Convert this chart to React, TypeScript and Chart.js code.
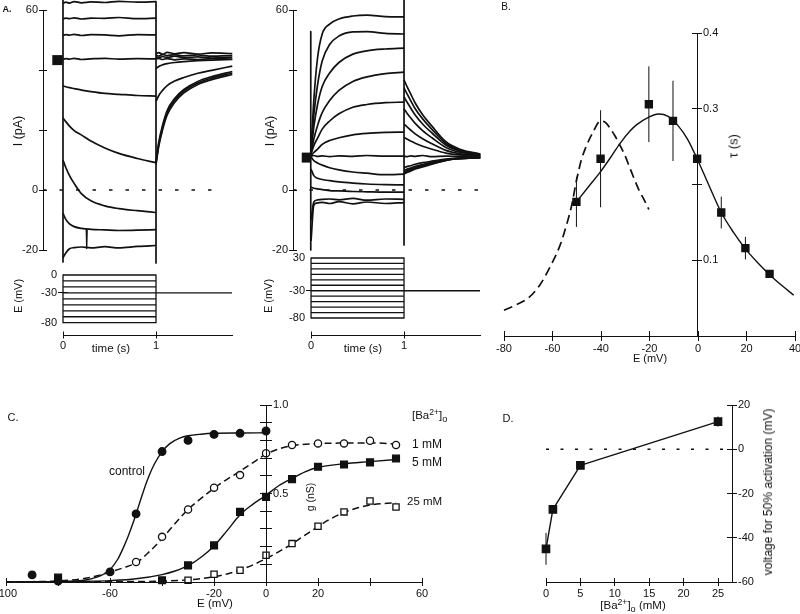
import { useEffect, useRef } from 'react';
import { Chart, registerables } from 'chart.js';

Chart.register(...registerables);

const W = 800;
const H = 614;
const INK = '#111111';
const FONT = "'Liberation Sans', Arial, Helvetica, sans-serif";
const AXW = 40; // reserved width for a vertical axis box
const AXH = 30; // reserved height for a horizontal axis box

// ---------------- Panel A: sample times (s) ----------------
const stepTimes = [0, 0.03, 0.07, 0.12, 0.2, 0.3, 0.45, 0.6, 0.8, 1.0];
const tailTimes = [1.0, 1.03, 1.07, 1.12, 1.2, 1.3, 1.45, 1.6, 1.82];
const timeTicks = [0, 1];
const holdingV = -30;

// Panel A left: steps 0 .. -80 mV (pA)
const leftStepVolts = [0, -10, -20, -30, -40, -50, -60, -70, -80];
const leftHoldI = 43.3;
const leftStepI = [
  [62.2, 62.6, 62.3, 62.8, 62.4, 62.7, 62.5, 62.9, 62.6, 62.8],
  [57.0, 57.3, 57.1, 57.4, 57.0, 57.3, 57.2, 57.5, 57.1, 57.3],
  [51.5, 51.8, 51.6, 51.9, 51.5, 51.8, 51.7, 51.4, 51.8, 51.7],
  [43.5, 43.8, 43.6, 43.9, 43.5, 43.7, 43.9, 43.6, 43.8, 43.7],
  [34.7, 34.4, 34.1, 33.8, 33.3, 32.8, 32.2, 31.9, 31.5, 31.3],
  [24.0, 22.8, 21.3, 19.8, 18.3, 16.3, 14.0, 12.2, 10.5, 9.1],
  [10.0, 7.5, 4.8, 2.2, -1.3, -3.6, -5.3, -6.2, -6.9, -7.5],
  [-7.8, -9.8, -11.3, -12.2, -12.8, -13.1, -13.3, -13.5, -13.4, -13.2],
  [-22.5, -21.0, -19.6, -19.2, -19.0, -19.3, -18.9, -19.3, -18.8, -18.5],
];
const leftTailI = [
  [45.5, 45.8, 45.2, 45.9, 45.4, 45.8, 45.3, 45.7, 45.5],
  [45.0, 44.6, 45.2, 44.8, 45.1, 44.7, 45.0, 44.6, 44.9],
  [44.4, 44.0, 44.5, 44.2, 44.6, 44.1, 44.4, 44.0, 44.3],
  [43.6, 43.9, 43.5, 43.8, 43.4, 43.7, 43.5, 43.8, 43.6],
  [40.5, 41.2, 41.7, 42.1, 42.5, 42.8, 43.1, 43.3, 43.5],
  [29.5, 31.5, 33.2, 34.8, 36.3, 37.5, 38.9, 39.9, 41.3],
  [9.5, 16.0, 21.5, 26.5, 30.5, 33.5, 36.2, 37.8, 39.5],
  [9.0, 15.3, 20.8, 25.8, 29.9, 33.0, 35.7, 37.3, 39.0],
  [8.5, 14.6, 20.0, 25.0, 29.2, 32.4, 35.2, 36.8, 38.5],
];
const leftGlitch = [[0.25, -13.2], [0.255, -19.5], [0.26, -13.3]];

// Panel A right: steps +30 .. -80 mV (pA)
const rightStepVolts = [30, 20, 10, 0, -10, -20, -30, -40, -50, -60, -70, -80];
const rightHoldI = 10.8;
const rightStepI = [
  [13, 30, 44, 52, 55.3, 57, 58, 58.3, 57.8, 57.7],
  [13, 25, 35, 43, 48.5, 51.3, 52.7, 52.8, 52.2, 52],
  [12.5, 21, 28.5, 34.5, 39, 42.5, 45.3, 46.4, 47, 47.3],
  [12, 17, 21.5, 25.8, 29.8, 33.2, 36.2, 37.7, 38.8, 39.3],
  [12, 14.8, 17.3, 20.3, 23, 25.4, 27.6, 28.5, 29.1, 29.3],
  [11.5, 12.5, 13.6, 15.2, 16.5, 17.4, 18.4, 18.9, 19.2, 19.3],
  [11.3, 11.5, 11.2, 11.4, 11.1, 11.4, 11.2, 11.5, 11.3, 11.3],
  [11, 9.8, 9, 8.3, 7.4, 6.7, 6.0, 5.6, 5.1, 5.3],
  [7, 4.8, 3.9, 3.5, 3.1, 2.7, 2.3, 2.0, 1.8, 1.7],
  [1, 0.6, 0.4, 0.1, -0.2, -0.3, -0.5, -0.6, -0.7, -0.7],
  [-10, -4, -3.3, -3.1, -3.0, -3.3, -2.8, -3.4, -3.0, -3.1],
  [-17, -5, -4.3, -4.1, -4.5, -3.9, -4.6, -4.0, -4.5, -4.2],
];
const rightTailI = [
  [36.7, 34.6, 32.1, 29.0, 25.1, 21.3, 16.1, 13.6, 12.0],
  [34, 32.2, 29.9, 27.1, 23.7, 20.2, 15.6, 13.3, 11.9],
  [31, 29.4, 27.4, 25, 22, 19, 15, 13, 11.8],
  [27, 25.7, 24.1, 22.2, 19.8, 17.4, 14.2, 12.6, 11.6],
  [22, 21.1, 20, 18.7, 17.1, 15.4, 13.2, 12.1, 11.4],
  [17.5, 17, 16.3, 15.6, 14.6, 13.6, 12.3, 11.7, 11.3],
  [11.3, 11.1, 11.4, 11.2, 11.5, 11.1, 11.3, 11.2, 11.4],
  [7.5, 7.8, 8.1, 8.6, 9.1, 9.6, 10.3, 10.7, 10.9],
  [6.5, 6.9, 7.3, 7.9, 8.5, 9.2, 10.1, 10.6, 10.8],
  [6, 6.4, 6.9, 7.5, 8.3, 9, 10, 10.5, 10.8],
  [5.6, 6, 6.6, 7.2, 8, 8.8, 9.9, 10.5, 10.8],
  [5.3, 5.8, 6.3, 7, 7.7, 8.6, 9.9, 10.4, 10.8],
];
const currentTicks = [60, 40, 20, 0, -20];
const currentLabels = [60, 0, -20];

// ---------------- Panel B: tau vs E ----------------
const bVolts = [-50, -40, -20, -10, 0, 10, 20, 30];
const bTau = [0.177, 0.234, 0.306, 0.284, 0.234, 0.163, 0.116, 0.082];
const bErr = [0.033, 0.064, 0.05, 0.053, 0, 0.021, 0.015, 0.004];
const bFitE = [-50, -45, -40, -36, -32, -28, -25, -20, -16, -12, -8, -4, 0, 5, 10, 15, 20, 25, 30, 35, 40];
const bFitTau = [0.177, 0.197, 0.217, 0.235, 0.254, 0.27, 0.279, 0.289, 0.293, 0.29, 0.278, 0.26, 0.234, 0.198, 0.163, 0.137, 0.115, 0.097, 0.081, 0.067, 0.054];
const bDashE = [-80, -75, -70, -65, -60, -57, -55, -52, -50, -48, -46, -43, -40, -38, -36, -34, -32, -30, -28, -26, -24, -22, -20];
const bDashTau = [0.034, 0.041, 0.05, 0.068, 0.097, 0.118, 0.137, 0.172, 0.205, 0.232, 0.25, 0.27, 0.284, 0.282, 0.274, 0.264, 0.252, 0.239, 0.223, 0.207, 0.192, 0.18, 0.167];
const bXTicks = [-80, -60, -40, -20, 0, 20, 40];
const bYTicks = [0.1, 0.2, 0.3, 0.4];

// ---------------- Panel C: g vs E ----------------
const ctrlCurveE = [-100, -90, -80, -75, -70, -65, -62, -60, -57, -55, -53, -51, -49, -47, -45, -43, -40, -37, -33, -30, -25, -20, -10, 0];
const ctrlCurveG = [0, 0.001, 0.002, 0.004, 0.01, 0.028, 0.048, 0.07, 0.13, 0.19, 0.26, 0.34, 0.43, 0.52, 0.6, 0.665, 0.737, 0.782, 0.814, 0.826, 0.835, 0.84, 0.842, 0.843];
const oneCurveE = [-100, -90, -80, -70, -65, -60, -55, -50, -45, -40, -35, -30, -25, -20, -15, -10, -5, 0, 5, 10, 20, 30, 40, 50];
const oneCurveG = [0, 0.002, 0.006, 0.02, 0.035, 0.057, 0.08, 0.108, 0.17, 0.245, 0.33, 0.41, 0.472, 0.53, 0.58, 0.626, 0.675, 0.722, 0.752, 0.77, 0.782, 0.785, 0.786, 0.78];
const fiveCurveE = [-100, -80, -70, -60, -50, -40, -35, -30, -25, -20, -15, -10, -5, 0, 5, 10, 15, 20, 30, 40, 50];
const fiveCurveG = [0, 0.002, 0.004, 0.008, 0.018, 0.042, 0.062, 0.092, 0.14, 0.204, 0.29, 0.38, 0.44, 0.49, 0.545, 0.585, 0.622, 0.648, 0.668, 0.68, 0.692];
const tfCurveE = [-100, -60, -40, -30, -20, -15, -10, -5, 0, 5, 10, 15, 20, 25, 30, 35, 40, 45, 50];
const tfCurveG = [0, 0.002, 0.005, 0.012, 0.03, 0.045, 0.068, 0.097, 0.132, 0.172, 0.215, 0.265, 0.313, 0.358, 0.393, 0.418, 0.435, 0.443, 0.447];
const ctrlPtE = [-90, -80, -60, -50, -40, -30, -20, -10, 0];
const ctrlPtG = [0.04, 0.005, 0.057, 0.385, 0.737, 0.8, 0.834, 0.84, 0.853];
const onePtE = [-50, -40, -30, -20, -10, 0, 10, 20, 30, 40, 50];
const onePtG = [0.113, 0.255, 0.41, 0.533, 0.604, 0.728, 0.774, 0.783, 0.783, 0.798, 0.774];
const fivePtE = [-80, -40, -30, -20, -10, 0, 10, 20, 30, 40, 50];
const fivePtG = [0.025, 0.01, 0.094, 0.207, 0.396, 0.481, 0.581, 0.651, 0.664, 0.676, 0.698];
const tfPtE = [-30, -20, -10, 0, 10, 20, 30, 40, 50];
const tfPtG = [0.01, 0.044, 0.066, 0.151, 0.217, 0.315, 0.396, 0.458, 0.424];
const cXTicks = [-100, -80, -60, -40, -20, 0, 20, 40, 60];
const cXLabels = [-100, -60, -20, 0, 20, 60];
const cYTicks = [0.1, 0.2, 0.3, 0.4, 0.5, 0.6, 0.7, 0.8, 0.9, 1.0];

// ---------------- Panel D: V50 vs [Ba2+] ----------------
const dConc = [0, 1, 5, 25];
const dV50 = [-45, -27.2, -7.3, 12.5];
const dErr = [7.2, 1.5, 1, 2.3];
const dXTicks = [0, 5, 10, 15, 20, 25];
const dYTicks = [20, 0, -20, -40, -60];

// ---------------- helpers ----------------
type Pt = [number, number];
const zip = (xs: number[], ys: number[]): Pt[] => xs.map((x, i) => [x, ys[i]] as Pt);

function lineDs(pts: Pt[], opts: any = {}) {
  return {
    data: pts.map(([x, y]) => ({ x, y })),
    showLine: true,
    borderColor: INK,
    borderWidth: 1.5,
    pointRadius: 0,
    pointHoverRadius: 0,
    fill: false,
    clip: false,
    tension: 0,
    borderCapStyle: 'butt',
    borderJoinStyle: 'round',
    order: 2,
    ...opts,
  };
}
function markDs(pts: Pt[], style: string, filled: boolean, radius: number) {
  return {
    data: pts.map(([x, y]) => ({ x, y })),
    showLine: false,
    pointStyle: style,
    pointRadius: radius,
    pointHoverRadius: radius,
    pointBackgroundColor: filled ? INK : '#ffffff',
    pointBorderColor: INK,
    pointBorderWidth: 1.3,
    clip: false,
    order: 0,
  };
}
function errDs(xs: number[], ys: number[], es: number[]) {
  return xs
    .map((x, i) => (es[i] > 0 ? lineDs([[x, ys[i] - es[i]], [x, ys[i] + es[i]]], { borderWidth: 1, order: 1 }) : null))
    .filter(Boolean);
}
function hid(min: number, max: number) {
  return { type: 'linear', display: false, min, max };
}
function axis(position: string, min: number, max: number, ticks: number[], label: (v: number) => string, tick: number, extra: any = {}) {
  const horiz = position === 'bottom' || position === 'top';
  return {
    type: 'linear',
    display: true,
    position,
    min,
    max,
    afterBuildTicks: (s: any) => {
      s.ticks = ticks.map((v) => ({ value: v }));
    },
    afterFit: (s: any) => {
      if (horiz) s.height = AXH;
      else s.width = AXW;
      s.paddingLeft = 0;
      s.paddingRight = 0;
      s.paddingTop = 0;
      s.paddingBottom = 0;
    },
    ticks: {
      callback: (v: any) => label(Number(v)),
      autoSkip: false,
      maxRotation: 0,
      minRotation: 0,
      padding: extra.pad ?? 1,
      color: INK,
      font: { family: FONT, size: 11 },
    },
    grid: { display: true, drawOnChartArea: true, drawTicks: true, tickLength: tick, color: INK, lineWidth: 1, ...(extra.grid || {}) },
    border: { display: true, color: INK, width: 1, ...(extra.border || {}) },
  };
}
const only = (vals: number[], fmt: (v: number) => string = (v) => String(v)) => (v: number) =>
  vals.some((q) => Math.abs(q - v) < 1e-9) ? fmt(v) : '';

interface Layer {
  area: [number, number, number, number];
  reserve?: { left?: number; right?: number; bottom?: number };
  x: any;
  y: any;
  datasets: any[];
}

function yAxisLayer(x: number, top: number, bottom: number, min: number, max: number, ticks: number[], label: (v: number) => string, tick: number, side: 'left' | 'right', extra: any = {}): Layer {
  const area: [number, number, number, number] = side === 'left' ? [x, top, x + tick, bottom] : [x - tick, top, x, bottom];
  return { area, reserve: side === 'left' ? { left: AXW } : { right: AXW }, x: hid(0, 1), y: axis(side, min, max, ticks, label, tick, extra), datasets: [] };
}
function xAxisLayer(y: number, left: number, right: number, min: number, max: number, ticks: number[], label: (v: number) => string, tick: number, extra: any = {}): Layer {
  return { area: [left, y - tick, right, y], reserve: { bottom: AXH }, x: axis('bottom', min, max, ticks, label, tick, extra), y: hid(0, 1), datasets: [] };
}

function traceLayers(opts: {
  left: number; right: number; tMin: number; tMax: number; holdI: number; holdT0: number;
  stepI: number[][]; tailI: number[][]; volts: number[]; vTop: number; vBottom: number; vMax: number;
  capLines: Pt[][]; extra: any[]; zeroEnd: number; t0px: number;
}): Layer[] {
  const { left, right, tMin, tMax } = opts;
  const ds: any[] = [];
  ds.push(lineDs([[opts.holdT0, opts.holdI], [-0.004, opts.holdI]], { borderWidth: 10 }));
  opts.stepI.forEach((row) => ds.push(lineDs(zip(stepTimes, row), { cubicInterpolationMode: 'monotone', borderWidth: 1.7 })));
  opts.tailI.forEach((row) => ds.push(lineDs(zip(tailTimes, row), { cubicInterpolationMode: 'monotone', borderWidth: 1.7 })));
  opts.capLines.forEach((p) => ds.push(lineDs(p, { borderWidth: 1.7 })));
  opts.extra.forEach((p) => ds.push(lineDs(p, { borderWidth: 1.3 })));
  ds.push(lineDs([[tMin, 0], [opts.zeroEnd, 0]], { borderWidth: 1.4, borderDash: [3.5, 13] }));

  const vds: any[] = [];
  opts.volts.forEach((v) => vds.push(lineDs([[0, v], [1, v]], { borderWidth: 1.3 })));
  vds.push(lineDs([[0, opts.vMax], [0, -80]], { borderWidth: 1.3 }));
  vds.push(lineDs([[1, opts.vMax], [1, -80]], { borderWidth: 1.3 }));
  vds.push(lineDs([[1, holdingV], [tMax, holdingV]], { borderWidth: 1.3 }));

  const vLabels = [opts.vMax, holdingV, -80];
  return [
    { area: [left, 10, right, 250], x: hid(tMin, tMax), y: hid(-20, 60), datasets: ds },
    yAxisLayer(left, 10, 250, -20, 60, currentTicks, only(currentLabels), 4, 'left'),
    { area: [left, opts.vTop, right, opts.vBottom], x: hid(tMin, tMax), y: hid(-80, opts.vMax), datasets: vds },
    yAxisLayer(opts.t0px, opts.vTop, opts.vBottom, -80, opts.vMax, vLabels, only(vLabels), 5, 'left', {
      border: { display: false },
      grid: { color: (c: any) => (c.tick && c.tick.value === holdingV ? INK : 'rgba(0,0,0,0)') },
    }),
    xAxisLayer(335, opts.t0px, right, 0, tMax, timeTicks, only(timeTicks), 3.5),
  ];
}

function buildLayers(): Layer[] {
  const layers: Layer[] = [];

  // ---- A left ----
  layers.push(
    ...traceLayers({
      left: 43, right: 232, tMin: -0.215, tMax: 1.817, holdI: leftHoldI, holdT0: -0.115,
      stepI: leftStepI, tailI: leftTailI, volts: leftStepVolts, vTop: 275, vBottom: 322.7, vMax: 0,
      capLines: [[[0, 63.3], [0, -24]], [[1, 62.8], [1, -24.3]]],
      extra: [leftGlitch as Pt[]], zeroEnd: 1.71, t0px: 63,
    })
  );
  // ---- A right ----
  layers.push(
    ...traceLayers({
      left: 293, right: 480, tMin: -0.194, tMax: 1.817, holdI: rightHoldI, holdT0: -0.1,
      stepI: rightStepI, tailI: rightTailI, volts: rightStepVolts, vTop: 258, vBottom: 318, vMax: 30,
      capLines: [[[-0.003, 52.8], [-0.003, -20]], [[1, 63.3], [1, -18.3]]],
      extra: [], zeroEnd: 1.82, t0px: 311,
    })
  );

  // ---- B ----
  const bDs: any[] = [
    markDs(zip(bVolts, bTau), 'rect', true, 5),
    ...errDs(bVolts, bTau, bErr),
    lineDs(zip(bFitE, bFitTau), { borderWidth: 1.4, cubicInterpolationMode: 'monotone' }),
    lineDs(zip(bDashE, bDashTau), { borderWidth: 1.7, borderDash: [9, 5], cubicInterpolationMode: 'monotone' }),
  ];
  layers.push({ area: [504, 33, 795, 336], x: hid(-80, 40), y: hid(0, 0.4), datasets: bDs });
  layers.push(xAxisLayer(336, 504, 795, -80, 40, bXTicks, only(bXTicks), 5));
  layers.push(yAxisLayer(697, 33, 336, 0, 0.4, bYTicks, only([0.1, 0.3, 0.4], (v) => v.toFixed(1)), 5, 'right'));

  // ---- C ----
  const cDs: any[] = [
    markDs(zip(ctrlPtE, ctrlPtG), 'circle', true, 3.8),
    markDs(zip(onePtE, onePtG), 'circle', false, 3.6),
    markDs(zip(fivePtE, fivePtG), 'rect', true, 4.8),
    markDs(zip(tfPtE, tfPtG), 'rect', false, 4.4),
    lineDs(zip(ctrlCurveE, ctrlCurveG), { borderWidth: 1.4, cubicInterpolationMode: 'monotone' }),
    lineDs(zip(oneCurveE, oneCurveG), { borderWidth: 1.5, borderDash: [7, 4], cubicInterpolationMode: 'monotone' }),
    lineDs(zip(fiveCurveE, fiveCurveG), { borderWidth: 1.4, cubicInterpolationMode: 'monotone' }),
    lineDs(zip(tfCurveE, tfCurveG), { borderWidth: 1.5, borderDash: [7, 4], cubicInterpolationMode: 'monotone' }),
  ];
  layers.push({ area: [6, 405, 422, 582], x: hid(-100, 60), y: hid(0, 1), datasets: cDs });
  layers.push(xAxisLayer(582, 6, 422, -100, 60, cXTicks, only(cXLabels), 4));
  layers.push(yAxisLayer(266, 405, 582, 0, 1, cYTicks, only([0.5, 1], (v) => v.toFixed(1)), 6, 'right'));

  // ---- D ----
  const dDs: any[] = [
    markDs(zip(dConc, dV50), 'rect', true, 5.2),
    ...errDs(dConc, dV50, dErr),
    lineDs(zip(dConc, dV50), { borderWidth: 1.4 }),
    lineDs([[0, 0], [27.03, 0]], { borderWidth: 1.4, borderDash: [3, 11.5] }),
  ];
  layers.push({ area: [546, 405, 732, 582], x: hid(0, 27.03), y: hid(-60, 20), datasets: dDs });
  layers.push(xAxisLayer(582, 546, 732, 0, 27.03, dXTicks, only(dXTicks), 4));
  layers.push(yAxisLayer(732, 405, 582, -60, 20, dYTicks, only(dYTicks), 5, 'right'));

  return layers;
}

const LAYER_COUNT = buildLayers().length;

function makeChart(canvas: HTMLCanvasElement, L: Layer) {
  const [l, t, r, b] = L.area;
  const rs = L.reserve || {};
  const options: any = {
    animation: false,
    responsive: false,
    maintainAspectRatio: false,
    devicePixelRatio: 1,
    events: [],
    layout: { padding: { left: l - (rs.left || 0), top: t, right: W - r - (rs.right || 0), bottom: H - b - (rs.bottom || 0) } },
    plugins: { legend: { display: false }, tooltip: { enabled: false }, title: { display: false } },
    scales: { x: L.x, y: L.y },
  };
  const chart = new Chart(canvas, { type: 'scatter', data: { datasets: L.datasets }, options });
  for (let k = 0; k < 4; k++) {
    const ca = chart.chartArea;
    const dl = l - ca.left;
    const dt = t - ca.top;
    const dr = ca.right - r;
    const db = ca.bottom - b;
    if (Math.abs(dl) + Math.abs(dt) + Math.abs(dr) + Math.abs(db) < 0.01) break;
    const p = (chart.config as any).options.layout.padding;
    (chart.config as any).options.layout.padding = { left: p.left + dl, top: p.top + dt, right: p.right + dr, bottom: p.bottom + db };
    chart.update();
  }
  return chart;
}

function T(props: { x: number; y: number; s?: number; rot?: boolean; bold?: boolean; anchor?: 'c' | 'l'; children: any }) {
  const { x, y, s = 11, rot = false, bold = false, anchor = 'c' } = props;
  const tr = anchor === 'c' ? 'translate(-50%, -50%)' : 'translate(0, -50%)';
  return (
    <div
      style={{
        position: 'absolute',
        left: x,
        top: y,
        transform: tr + (rot ? ' rotate(-90deg)' : ''),
        fontFamily: FONT,
        fontSize: s,
        fontWeight: bold ? 700 : 400,
        color: INK,
        whiteSpace: 'nowrap',
        lineHeight: 1,
        zIndex: 5,
      }}
    >
      {props.children}
    </div>
  );
}

const Ba = () => (
  <span>
    [Ba<sup style={{ fontSize: '0.75em', verticalAlign: '0.45em', lineHeight: 0 }}>2+</sup>]
    <sub style={{ fontSize: '0.8em', verticalAlign: '-0.25em', lineHeight: 0 }}>o</sub>
  </span>
);

export default function App() {
  const cvs = useRef<(HTMLCanvasElement | null)[]>([]);
  useEffect(() => {
    const layers = buildLayers();
    const charts = layers.map((L, i) => makeChart(cvs.current[i] as HTMLCanvasElement, L));
    return () => charts.forEach((c) => c.destroy());
  }, []);
  return (
    <div style={{ position: 'absolute', left: 0, top: 0, width: W, height: H, background: '#fff', overflow: 'hidden' }}>
      {Array.from({ length: LAYER_COUNT }).map((_, i) => (
        <canvas
          key={i}
          ref={(el) => {
            cvs.current[i] = el;
          }}
          width={W}
          height={H}
          style={{ position: 'absolute', left: 0, top: 0 }}
        />
      ))}
      <T x={7} y={9} s={9} bold>A.</T>
      <T x={18} y={131} rot s={12.5}>I (pA)</T>
      <T x={270} y={131} rot s={12.5}>I (pA)</T>
      <T x={18} y={296} rot s={11}>E (mV)</T>
      <T x={268} y={296} rot s={11}>E (mV)</T>
      <T x={111} y={349} s={11.5}>time (s)</T>
      <T x={363} y={349} s={11.5}>time (s)</T>

      <T x={506} y={7} s={10}>B.</T>
      <T x={733} y={146} rot s={13}>τ (s)</T>
      <T x={650} y={358} s={11}>E (mV)</T>

      <T x={13} y={417} s={11}>C.</T>
      <T x={127} y={471} s={12}>control</T>
      <T x={310} y={497} rot s={10.5}>g (nS)</T>
      <T x={215} y={604} s={11.5}>E (mV)</T>
      <T x={412} y={416} anchor="l" s={11.5}><Ba /></T>
      <T x={412} y={444} anchor="l" s={12}>1 mM</T>
      <T x={412} y={462} anchor="l" s={12}>5 mM</T>
      <T x={407} y={502} anchor="l" s={11.5}>25 mM</T>

      <T x={508} y={418} s={11}>D.</T>
      <T x={768} y={492} rot s={12}>voltage for 50% activation (mV)</T>
      <T x={633} y={606} s={11.5}><Ba /> (mM)</T>
    </div>
  );
}
